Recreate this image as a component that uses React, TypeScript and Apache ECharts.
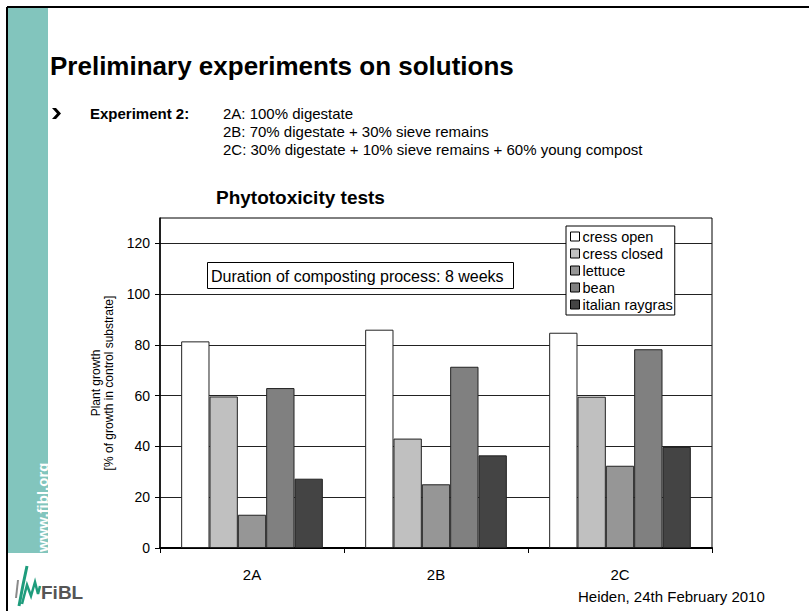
import React, { useEffect, useRef } from "react";
import * as echarts from "echarts";

const categories = ["2A", "2B", "2C"];
const seriesNames = ["cress open", "cress closed", "lettuce", "bean", "italian raygras"];
const cressOpen = [81.4, 86.0, 84.8];
const cressClosed = [59.7, 43.1, 59.6];
const lettuce = [13.1, 25.1, 32.4];
const bean = [63.0, 71.4, 78.3];
const italianRaygras = [27.3, 36.5, 39.8];
const seriesColors = ["#ffffff", "#c0c0c0", "#969696", "#808080", "#444444"];
const yTicks = [0, 20, 40, 60, 80, 100, 120];

const FONT = "'Liberation Sans', Arial, Helvetica, sans-serif";

export default function App() {
  const ref = useRef<HTMLDivElement>(null);
  useEffect(() => {
    if (!ref.current) return;
    const chart = echarts.init(ref.current, undefined, { renderer: "svg" });
    const values = [cressOpen, cressClosed, lettuce, bean, italianRaygras];
    const series = seriesNames.map((name, i) => ({
      name,
      type: "bar",
      data: values[i],
      barGap: "0%",
      barCategoryGap: "23%",
      itemStyle: { color: seriesColors[i], borderColor: "#222", borderWidth: 1 },
      emphasis: { disabled: true },
    }));
    const text = (x: number, y: number, t: string, font: string, extra: any = {}) => ({
      type: "text",
      x,
      y,
      silent: true,
      style: {
        text: t,
        font,
        fill: "#000",
        textAlign: "left",
        textVerticalAlign: "middle",
        ...extra,
      },
    });
    chart.setOption({
      animation: false,
      backgroundColor: "#fff",
      textStyle: { fontFamily: FONT },
      grid: {
        left: 160,
        right: 97,
        top: 218,
        bottom: 63,
        show: true,
        borderColor: "#000",
        borderWidth: 1,
        backgroundColor: "transparent",
      },
      legend: {
        data: seriesNames,
        orient: "vertical",
        left: 566,
        top: 226,
        icon: "rect",
        itemWidth: 9,
        itemHeight: 9,
        itemGap: 2,
        padding: [3, 2, 3, 4],
        backgroundColor: "#fff",
        borderColor: "#000",
        borderWidth: 1,
        borderRadius: 0,
        selectedMode: false,
        itemStyle: { borderColor: "#000", borderWidth: 1 },
        textStyle: { fontFamily: FONT, fontSize: 14.5, color: "#000", padding: [0, 0, 0, -2] },
      },
      xAxis: {
        type: "category",
        data: categories,
        axisLine: { lineStyle: { color: "#000", width: 2 } },
        axisTick: { show: true, length: 5, lineStyle: { color: "#000" } },
        axisLabel: { color: "#000", fontSize: 15, fontFamily: FONT, margin: 19 },
      },
      yAxis: {
        type: "value",
        min: 0,
        max: 130,
        interval: 20,
        name: "Plant growth\n[% of growth in control substrate]",
        nameLocation: "middle",
        nameRotate: 90,
        nameGap: 36,
        nameTextStyle: { color: "#000", fontSize: 12, fontFamily: FONT, lineHeight: 13 },
        axisLine: { show: true, lineStyle: { color: "#000", width: 1.5 } },
        axisTick: { show: true, length: 5, customValues: yTicks, lineStyle: { color: "#000" } },
        axisLabel: { color: "#000", fontSize: 14, fontFamily: FONT, margin: 10, customValues: yTicks },
        splitLine: { show: true, lineStyle: { color: "#222", width: 1 } },
      },
      series,
      graphic: [
        { type: "line", silent: true, shape: { x1: 7, y1: 7, x2: 809, y2: 7 }, style: { stroke: "#000", lineWidth: 2 } },
        { type: "line", silent: true, shape: { x1: 7, y1: 7, x2: 7, y2: 611 }, style: { stroke: "#000", lineWidth: 2 } },
        { type: "rect", silent: true, shape: { x: 8, y: 8, width: 40, height: 545 }, style: { fill: "#82c5bd" } },
        {
          type: "text",
          x: 42,
          y: 552,
          rotation: Math.PI / 2,
          silent: true,
          style: { text: "www.fibl.org", font: `bold 15px ${FONT}`, fill: "#fff", textAlign: "left", textVerticalAlign: "middle" },
        },
        text(50, 66, "Preliminary experiments on solutions", `bold 26px ${FONT}`),
        {
          type: "polygon",
          silent: true,
          shape: { points: [[52, 108], [56, 108], [61, 113.5], [56, 119], [52, 119], [57, 113.5]] },
          style: { fill: "#000" },
        },
        text(90, 113, "Experiment 2:", `bold 15px ${FONT}`),
        text(223, 113, "2A: 100% digestate", `15px ${FONT}`),
        text(223, 131, "2B: 70% digestate + 30% sieve remains", `15px ${FONT}`),
        text(223, 149, "2C: 30% digestate + 10% sieve remains + 60% young compost", `15px ${FONT}`),
        text(216, 197, "Phytotoxicity tests", `bold 19px ${FONT}`),
        {
          type: "rect",
          silent: true,
          shape: { x: 207.5, y: 262.5, width: 306, height: 26 },
          style: { fill: "#fff", stroke: "#000", lineWidth: 1 },
        },
        text(211, 276, "Duration of composting process: 8 weeks", `16px ${FONT}`),
        text(578, 596, "Heiden, 24th February 2010", `15px ${FONT}`),
        {
          type: "polyline",
          silent: true,
          shape: { points: [[19, 606], [23, 585], [27, 566]] },
          style: { stroke: "#1e9c7c", lineWidth: 3, fill: null },
        },
        {
          type: "polyline",
          silent: true,
          shape: { points: [[22, 604], [27, 585], [31, 596], [35, 582], [38, 594], [40, 586]] },
          style: { stroke: "#1e9c7c", lineWidth: 2.5, fill: null },
        },
        {
          type: "polyline",
          silent: true,
          shape: { points: [[16, 598], [18, 580]] },
          style: { stroke: "#8a8a8a", lineWidth: 2, fill: null },
        },
        text(41, 592, "FiBL", `bold 19px ${FONT}`, { fill: "#555" }),
      ],
    });
    return () => chart.dispose();
  }, []);
  return (
    <div
      ref={ref}
      style={{ position: "fixed", left: 0, top: 0, width: 809, height: 611 }}
    />
  );
}
